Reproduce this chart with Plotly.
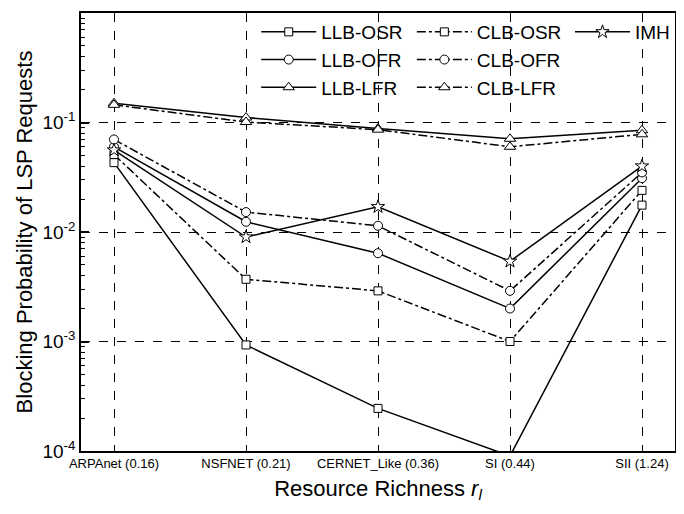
import plotly.graph_objects as go

networks = ["ARPAnet (0.16)", "NSFNET (0.21)", "CERNET_Like (0.36)", "SI (0.44)", "SII (1.24)"]

llb_osr = [0.043, 0.00093, 0.000245, 0.00009, 0.0176]
llb_ofr = [0.060, 0.0124, 0.0064, 0.0020, 0.031]
llb_lfr = [0.150, 0.111, 0.088, 0.071, 0.085]
clb_osr = [0.051, 0.0037, 0.0029, 0.0010, 0.024]
clb_ofr = [0.070, 0.0152, 0.0114, 0.0029, 0.035]
clb_lfr = [0.145, 0.101, 0.086, 0.060, 0.078]
imh = [0.056, 0.0090, 0.0170, 0.0054, 0.040]

series = [
    ("LLB-OSR", llb_osr, "square", "solid", "legend"),
    ("LLB-OFR", llb_ofr, "circle", "solid", "legend"),
    ("LLB-LFR", llb_lfr, "triangle-up", "solid", "legend"),
    ("CLB-OSR", clb_osr, "square", "dashdot", "legend2"),
    ("CLB-OFR", clb_ofr, "circle", "dashdot", "legend2"),
    ("CLB-LFR", clb_lfr, "triangle-up", "dashdot", "legend2"),
    ("IMH", imh, "star", "solid", "legend3"),
]
sizes = {"square": 8, "circle": 9, "triangle-up": 10, "star": 10}

fig = go.Figure()
for name, vals, sym, dash, leg in series:
    fig.add_trace(go.Scatter(
        x=networks, y=vals, name=name, mode="lines+markers", legend=leg,
        line=dict(color="black", width=1.5, dash=dash),
        marker=dict(symbol=sym, size=sizes[sym], color="white",
                    line=dict(color="black", width=1)),
        cliponaxis=True))

font = "Liberation Sans, Arial, sans-serif"
leg_style = dict(font=dict(family=font, size=19, color="black"), bgcolor="rgba(0,0,0,0)",
                 yanchor="top", itemwidth=55, tracegroupgap=0, orientation="v")

# page body keeps an 8px margin, so the figure is sized to fit inside it
fig.update_layout(
    width=668, height=498,
    margin=dict(l=73, r=1, t=5, b=55),
    paper_bgcolor="white", plot_bgcolor="white",
    font=dict(family=font, color="black"),
    legend=dict(x=0.295, y=1.0, xanchor="left", **leg_style),
    legend2=dict(x=0.557, y=1.0, xanchor="left", **leg_style),
    legend3=dict(x=1.0, y=1.0, xanchor="right", **leg_style),
    xaxis=dict(
        type="category", range=[-0.25, 4.25], automargin=False,
        showline=True, linecolor="black", linewidth=1.5, mirror=True,
        showgrid=True, gridcolor="black", gridwidth=1, griddash="dash",
        ticks="", tickfont=dict(size=13, family=font),
        title=dict(text="Resource Richness <i>r<sub>l</sub></i>", font=dict(size=22, family=font),
                   standoff=10),
    ),
    yaxis=dict(
        type="log", range=[-4, 0], automargin=False,
        showline=True, linecolor="black", linewidth=1.5, mirror=True,
        showgrid=True, gridcolor="black", gridwidth=1, griddash="dash",
        ticks="inside", ticklen=8, tickwidth=1.5, tickcolor="black",
        tickvals=[1e-4, 1e-3, 1e-2, 1e-1, 1],
        ticktext=["10<sup>-4</sup>", "10<sup>-3</sup>", "10<sup>-2</sup>", "10<sup>-1</sup>", "10<sup>0</sup>"],
        tickfont=dict(size=19, family=font),
        minor=dict(ticks="inside", ticklen=4, tickcolor="black", tickwidth=1.2,
                   dtick="D1", showgrid=False),
        title=dict(text="Blocking Probability of LSP Requests", font=dict(size=22, family=font),
                   standoff=4),
    ),
)

fig.write_html("out.html")
